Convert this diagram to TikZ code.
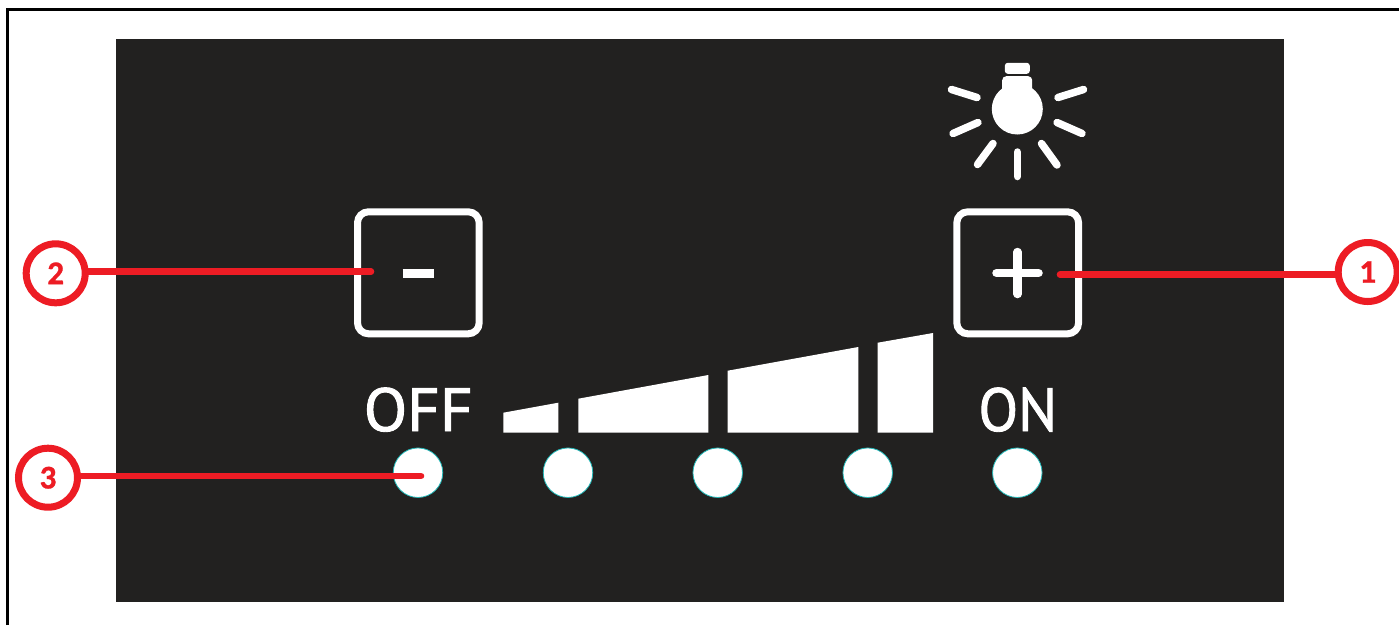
\documentclass[tikz,border=0pt]{standalone}
\usepackage{fontspec}
\setmainfont{PT Sans}
\newfontfamily\panelfont{PT Sans}[FakeBold=1.5]
\newfontfamily\numfont{Carlito Bold}[FakeBold=1]
\definecolor{panel}{HTML}{222120}
\definecolor{callred}{HTML}{ED1C24}
\definecolor{dotedge}{HTML}{20B8B8}
\tikzset{
  panelbox/.style={fill=panel,draw=none},
  keybox/.style={draw=white,line width=7pt,rounded corners=11pt,fill=none},
  keymark/.style={draw=white,line width=8.5pt,line cap=round},
  ray/.style={draw=white,line width=7.5pt,line cap=round},
  bar/.style={fill=white,draw=none},
  led/.style={circle,fill=white,draw=dotedge,line width=0.8pt,minimum size=49.5pt,inner sep=0pt},
  panellabel/.style={text=white,font=\panelfont\fontsize{61}{61}\selectfont,inner sep=0pt,anchor=base},
  callout/.style={circle,draw=callred,line width=7pt,fill=white,minimum size=59pt,inner sep=0pt,text=callred,font=\numfont\fontsize{33}{33}\selectfont},
  leader/.style={draw=callred,line width=6.6pt,line cap=round}
}
\begin{document}
\begin{tikzpicture}[x=1pt,y=-1pt]
\useasboundingbox (0,0) rectangle (1399,625);
\fill[white] (0,0) rectangle (1399,625);
\draw[black,line width=3pt] (7.5,625) -- (7.5,9.5) -- (1399,9.5);
\path[panelbox] (115.5,39) rectangle (1284,602);
% bulb
\fill[white,rounded corners=3pt] (1004.8,73.8) rectangle (1029.8,62.8);
\fill[white,rounded corners=4pt] (1002.2,100) rectangle (1032.2,76.2);
\node[circle,fill=white,minimum size=51pt,inner sep=0pt] (bulb) at (1017.3,109) {};
\path[ray] (951.5,89.5) -- (977,97.5);
\path[ray] (1083.5,89.5) -- (1058,97.5);
\path[ray] (953,133.5) -- (978,122.5);
\path[ray] (1082,133.5) -- (1057,122.5);
\path[ray] (977.5,164.5) -- (993,143.5);
\path[ray] (1057,165) -- (1041.5,143.5);
\path[ray] (1017.3,152) -- (1017.3,176.5);
% keys
\path[keybox] (357.5,211.8) rectangle (479.2,333.8);
\path[keybox] (956.8,211.8) rectangle (1078.6,333.8);
\path[keymark,line width=9pt,line cap=butt] (402.7,273) -- (434.3,273);
\path[keymark] (996.5,273) -- (1038.5,273);
\path[keymark] (1017.5,252) -- (1017.5,294);
% bars
\path[bar] (503.3,432.7) -- (503.3,412.7) -- (558.3,402.7) -- (558.3,432.7) -- cycle;
\path[bar] (578.3,432.7) -- (578.3,398.7) -- (708.3,375) -- (708.3,432.7) -- cycle;
\path[bar] (727.7,432.7) -- (727.7,370.7) -- (858.3,347) -- (858.3,432.7) -- cycle;
\path[bar] (877.7,432.7) -- (877.7,342.7) -- (933,333) -- (933,432.7) -- cycle;
% labels
\node[panellabel] (off) at (418.3,431) {\scalebox{1.04}[1]{OFF}};
\node[panellabel] (on) at (1017.8,431) {\scalebox{0.95}[1]{ON}};
% leds
\node[led] (led1) at (418,472.7) {};
\node[led] (led2) at (568,472.7) {};
\node[led] (led3) at (717.7,472.7) {};
\node[led] (led4) at (867.7,472.7) {};
\node[led] (led5) at (1017.3,472.7) {};
% callouts
\node[callout] (c1) at (1367.7,272) {1};
\node[callout] (c2) at (55.7,273.3) {2};
\node[callout] (c3) at (48,477.7) {3};
\coordinate (p1) at (1060,274.7);
\coordinate (p2) at (371,271.7);
\coordinate (p3) at (421,476);
\path[leader] (p1 -| c1.west) -- (p1);
\path[leader] (p2 -| c2.east) -- (p2);
\path[leader] (p3 -| c3.east) -- (p3);
\end{tikzpicture}
\end{document}
